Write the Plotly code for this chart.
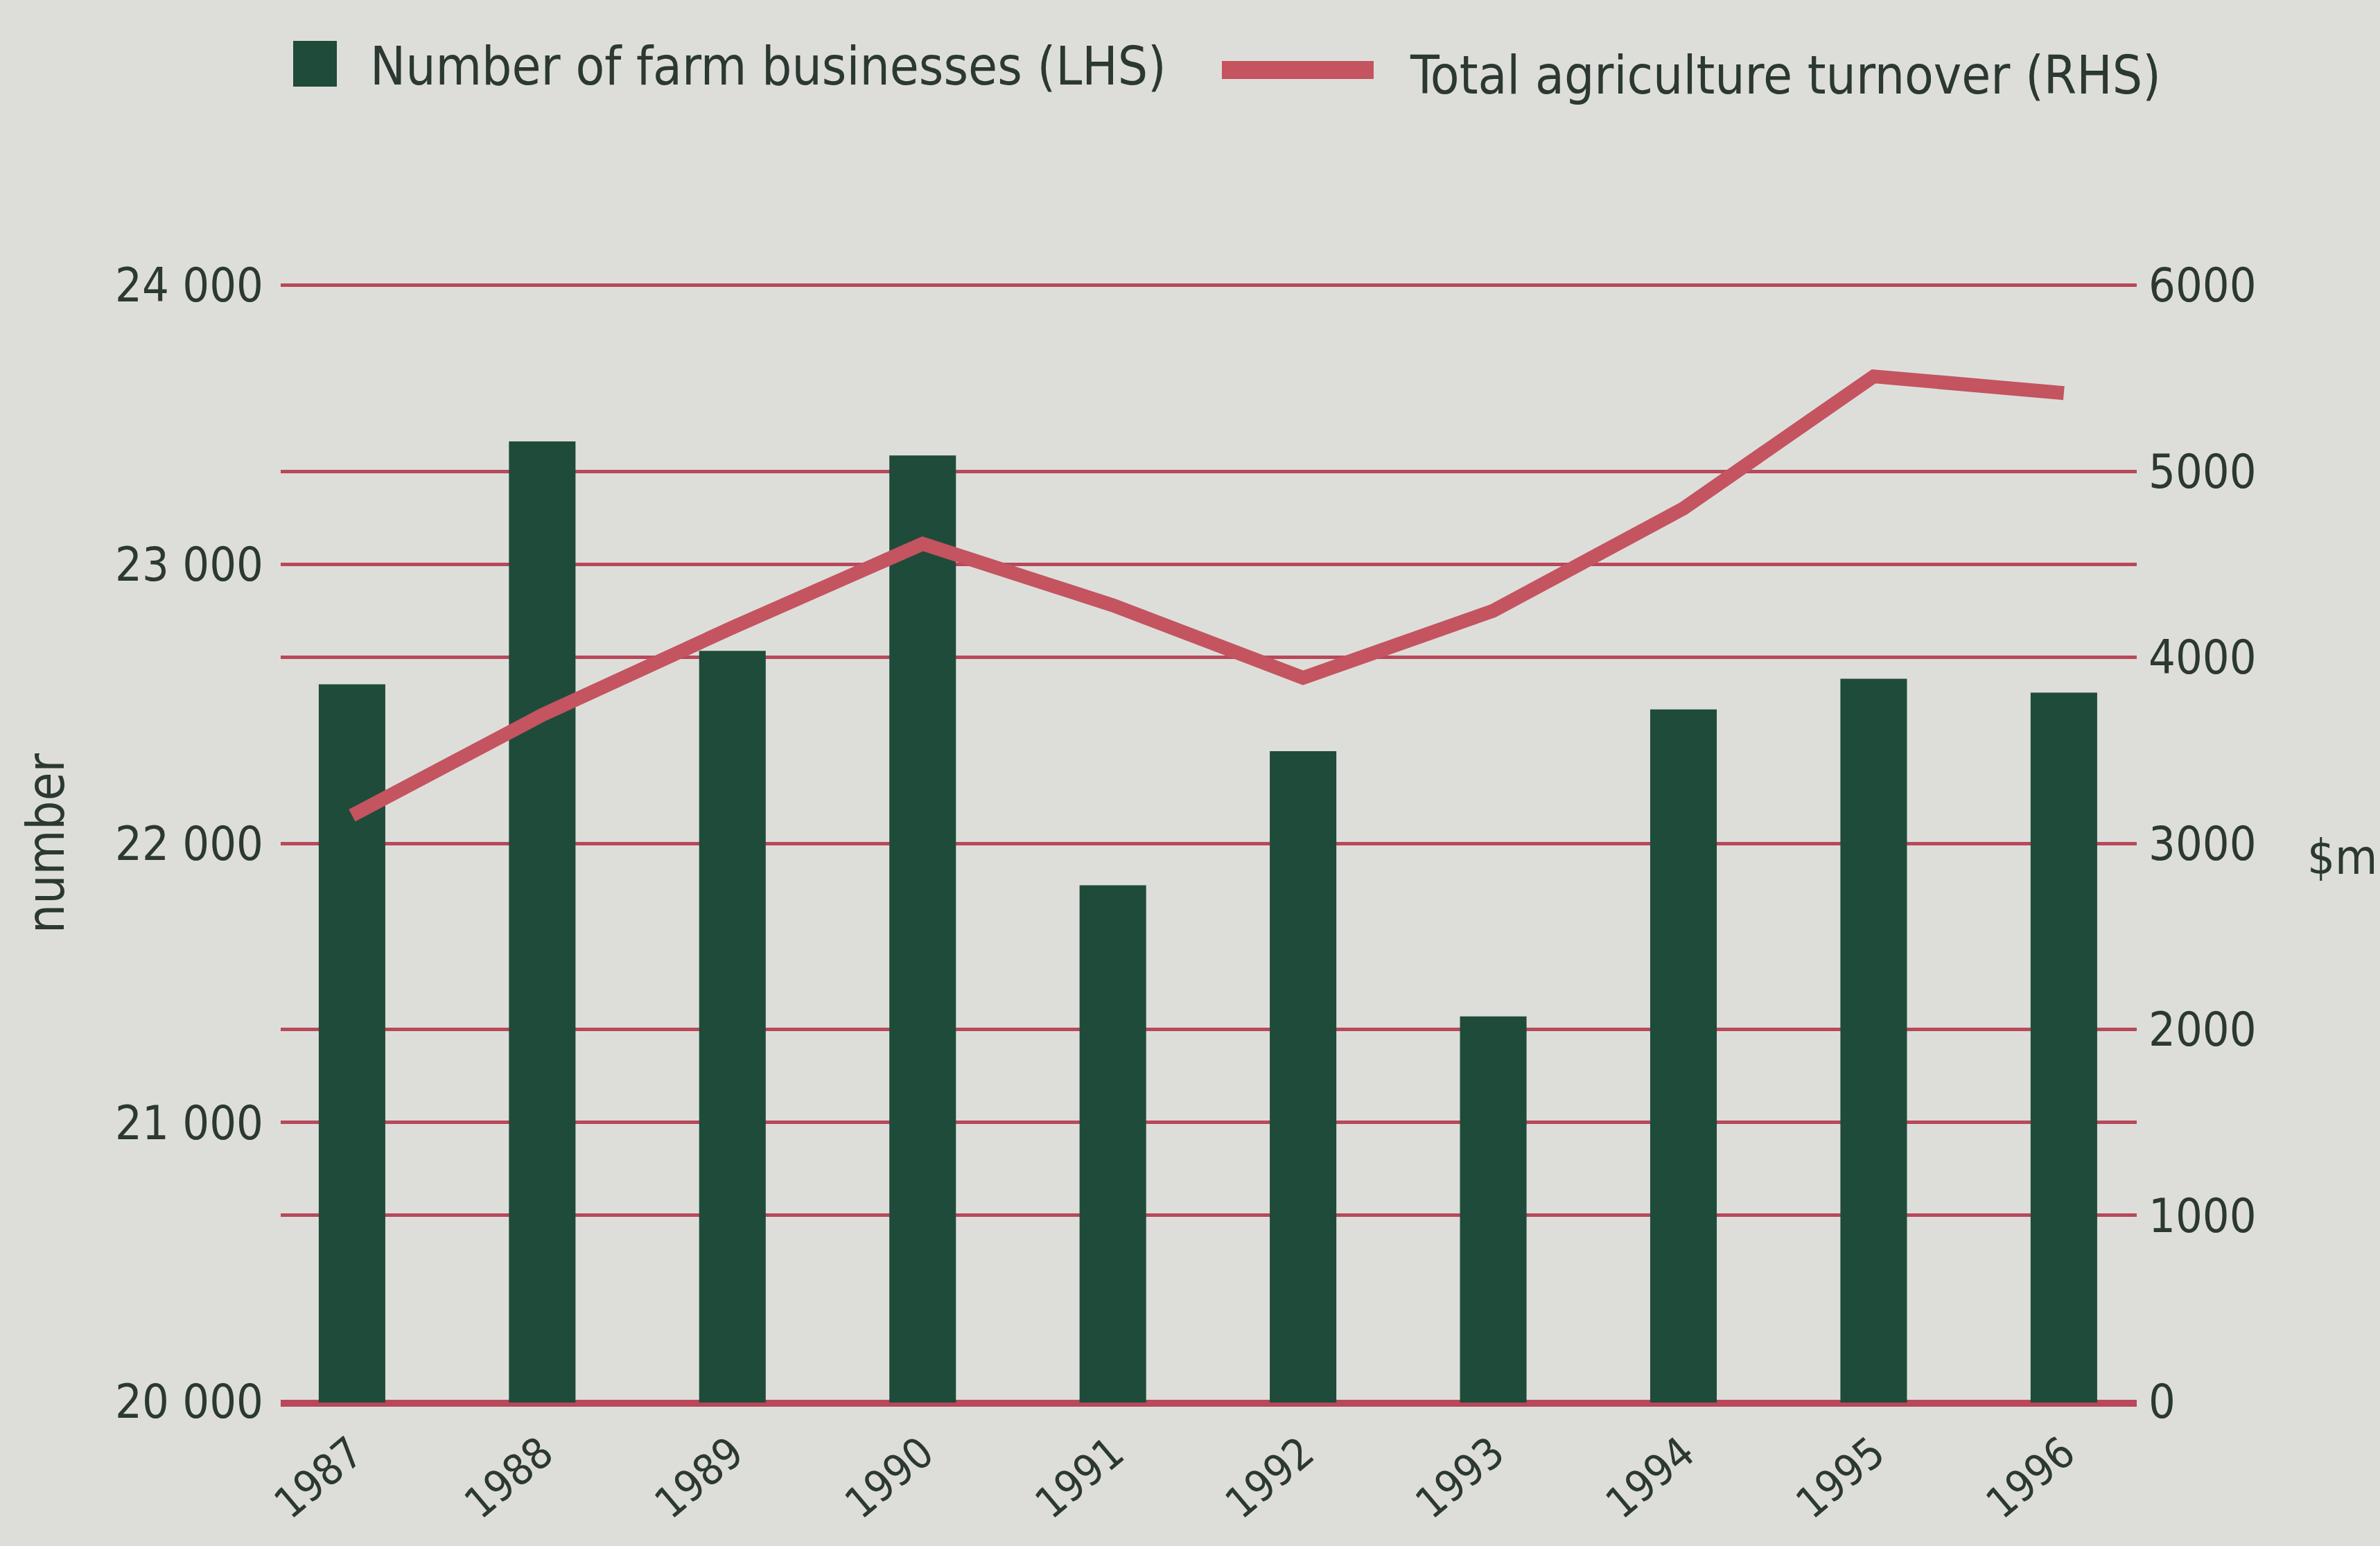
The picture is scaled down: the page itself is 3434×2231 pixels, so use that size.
import plotly.graph_objects as go

# Data
years = ["1987", "1988", "1989", "1990", "1991", "1992", "1993", "1994", "1995", "1996"]
farm_businesses = [22570, 23440, 22690, 23390, 21850, 22330, 21380, 22480, 22590, 22540]
ag_turnover = [3150, 3690, 4160, 4610, 4280, 3890, 4250, 4800, 5510, 5420]

left_ticks = [20000, 21000, 22000, 23000, 24000]
left_tick_labels = ["20 000", "21 000", "22 000", "23 000", "24 000"]
right_ticks = [0, 1000, 2000, 3000, 4000, 5000, 6000]
right_tick_labels = ["0", "1000", "2000", "3000", "4000", "5000", "6000"]

# Styling
BG = "#dddeda"
GREEN = "#1f4b3b"
RED_LINE = "#c4545f"
GRID = "#b8485a"
TEXT = "#2c3832"
FONT = "DejaVu Sans Condensed, Liberation Sans Narrow, sans-serif"

W, H = 3434, 2231
ML, MR, MT, MB = 405, 351, 410, 207

x_idx = list(range(len(years)))

fig = go.Figure()

fig.add_trace(go.Bar(
    x=x_idx, y=farm_businesses, name="Number of farm businesses (LHS)",
    marker=dict(color=GREEN, line=dict(width=0)), width=0.35,
    yaxis="y", showlegend=False,
))

fig.add_trace(go.Scatter(
    x=x_idx, y=ag_turnover, name="Total agriculture turnover (RHS)",
    mode="lines", line=dict(color=RED_LINE, width=20),
    yaxis="y2", showlegend=False,
))

# Ranges padded a hair so the gridlines at the extremes are still drawn
fig.update_layout(
    width=W, height=H,
    margin=dict(l=ML, r=MR, t=MT, b=MB, pad=0),
    paper_bgcolor=BG, plot_bgcolor=BG,
    font=dict(family=FONT, color=TEXT, size=70),
    xaxis=dict(
        range=[-0.375, 9.383], tickmode="array", tickvals=x_idx, ticktext=years,
        tickangle=-40, showgrid=False, zeroline=False, automargin=False,
        showline=True, linecolor=GRID, linewidth=6,
        ticks="outside", ticklen=6, tickcolor="rgba(0,0,0,0)",
        tickfont=dict(size=62, family=FONT, color=TEXT),
    ),
    yaxis=dict(
        range=[19996, 24004], tickmode="array", tickvals=left_ticks,
        ticktext=left_tick_labels, showgrid=True, gridcolor=GRID, gridwidth=5,
        zeroline=False, showline=False, ticks="", ticklabelstandoff=24,
        automargin=False, tickfont=dict(size=68, family=FONT, color=TEXT),
    ),
    yaxis2=dict(
        range=[-6, 6006], tickmode="array", tickvals=right_ticks,
        ticktext=right_tick_labels, overlaying="y", side="right",
        showgrid=True, gridcolor=GRID, gridwidth=5,
        zeroline=False, showline=False, ticks="", ticklabelstandoff=16,
        automargin=False, tickfont=dict(size=68, family=FONT, color=TEXT),
    ),
    showlegend=False,
)

PW = W - ML - MR
PH = H - MT - MB


def px(x):
    return (x - ML) / PW


def py(y):
    return (H - MB - y) / PH


# Legend drawn as shapes plus text
fig.add_shape(type="rect", xref="paper", yref="paper",
              x0=px(423), x1=px(486), y0=py(125), y1=py(59),
              fillcolor=GREEN, line=dict(width=0))
fig.add_shape(type="line", xref="paper", yref="paper",
              x0=px(1763), x1=px(1982), y0=py(101), y1=py(101),
              line=dict(color=RED_LINE, width=26))

fig.add_annotation(xref="paper", yref="paper", x=px(532), y=py(95),
                   xanchor="left", yanchor="middle", showarrow=False,
                   text="Number of farm businesses (LHS)",
                   font=dict(size=76, family=FONT, color=TEXT))
fig.add_annotation(xref="paper", yref="paper", x=px(2032), y=py(108),
                   xanchor="left", yanchor="middle", showarrow=False,
                   text="Total agriculture turnover (RHS)",
                   font=dict(size=76, family=FONT, color=TEXT))

# Axis unit labels
fig.add_annotation(xref="paper", yref="paper", x=px(66), y=0.5,
                   xanchor="center", yanchor="middle", showarrow=False,
                   textangle=-90, text="number",
                   font=dict(size=74, family=FONT, color=TEXT))
fig.add_annotation(xref="paper", yref="paper", x=px(3432), y=py(1237),
                   xanchor="right", yanchor="middle", showarrow=False,
                   text="$m",
                   font=dict(size=70, family=FONT, color=TEXT))

fig.write_html("out.html")
